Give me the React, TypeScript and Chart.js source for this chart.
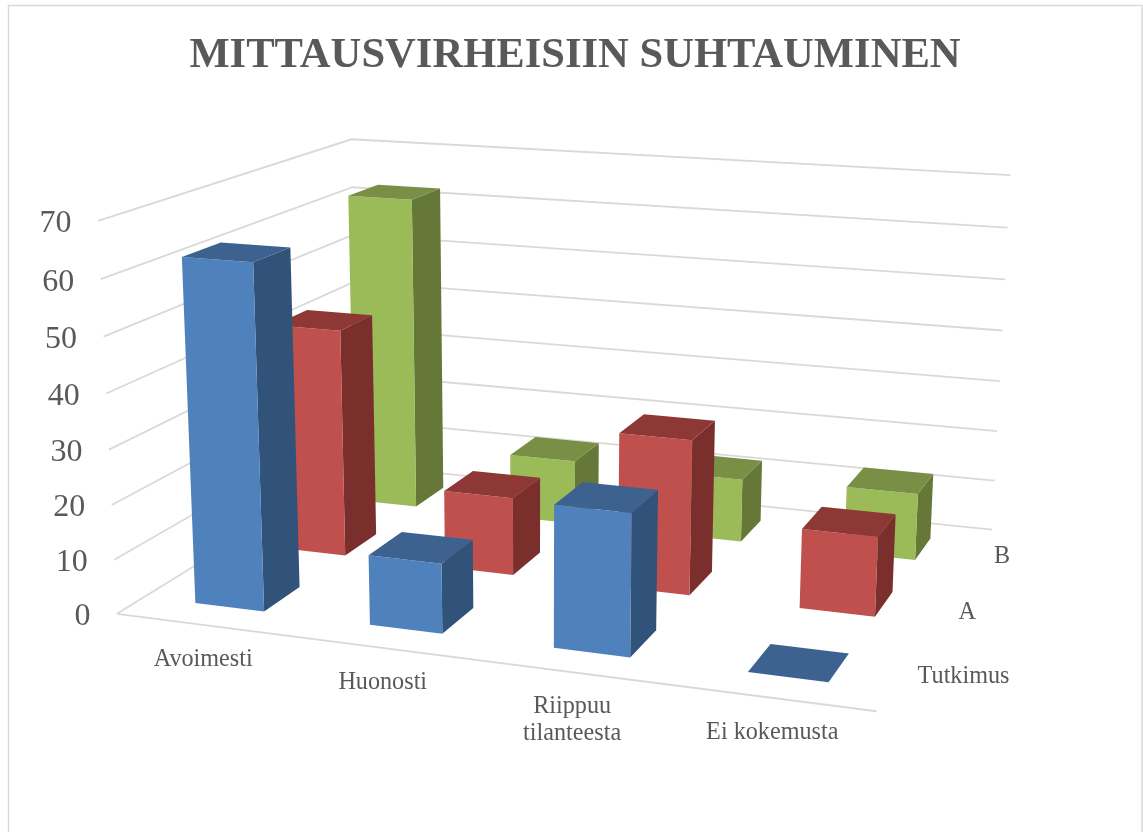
import React, { useEffect, useRef } from "react";
import { Chart, registerables } from "chart.js";

Chart.register(...registerables);

const TITLE = "MITTAUSVIRHEISIIN SUHTAUMINEN";
const categories: (string | string[])[] = ["Avoimesti", "Huonosti", ["Riippuu", "tilanteesta"], "Ei kokemusta"];
const seriesNames = ["Tutkimus", "A", "B"];
const tutkimus = [62.7, 12.7, 25.3, 0];
const sarjaA = [43.6, 14.8, 29, 14.7];
const sarjaB = [62.6, 12.8, 12.4, 13];
const valueTicks = { min: 0, max: 70, step: 10 };

const seriesStyles = [
  { front: "#4F81BD", side: "#325379", top: "#3D6290" },
  { front: "#C0504D", side: "#7A2F2D", top: "#8E3836" },
  { front: "#9BBB59", side: "#657837", top: "#788F45" },
];
const GRID = "#D9D9D9";
const TEXT = "#595959";
const BAR_W = 0.4;
const BAR_D = 0.42;

// Camera fit: the box of the 3D plot (x, value, depth in 0..1) to where its corners appear.
const cameraFit: [number, number, number, number, number][] = [
  [0, 0, 0, 117, 613],
  [0, 1, 0, 98, 221],
  [0, 3 / 7, 0, 109, 450],
  [0, 4 / 7, 0, 106, 394],
  [0, 1, 1, 352, 139],
  [0, 0, 1, 358, 465],
  [1, 1, 1, 1010, 175],
  [1, 0, 1, 992, 530],
  [1, 0, 0, 877, 711],
];

function solveCamera() {
  const rows: number[][] = [];
  const rhs: number[] = [];
  for (const [x, y, z, u0, v0] of cameraFit) {
    const u = u0 / 1000, v = v0 / 1000;
    rows.push([x, y, z, 1, 0, 0, 0, 0, -u * x, -u * y, -u * z]); rhs.push(u);
    rows.push([0, 0, 0, 0, x, y, z, 1, -v * x, -v * y, -v * z]); rhs.push(v);
  }
  const n = 11;
  const A: number[][] = Array.from({ length: n }, () => new Array(n + 1).fill(0));
  rows.forEach((r, k) => {
    for (let i = 0; i < n; i++) {
      for (let j = 0; j < n; j++) A[i][j] += r[i] * r[j];
      A[i][n] += r[i] * rhs[k];
    }
  });
  for (let i = 0; i < n; i++) A[i][i] += 1e-10;
  for (let i = 0; i < n; i++) {
    let p = i;
    for (let k = i + 1; k < n; k++) if (Math.abs(A[k][i]) > Math.abs(A[p][i])) p = k;
    [A[i], A[p]] = [A[p], A[i]];
    for (let k = 0; k < n; k++) {
      if (k === i) continue;
      const f = A[k][i] / A[i][i];
      for (let j = i; j <= n; j++) A[k][j] -= f * A[i][j];
    }
  }
  return A.map((r, i) => r[n] / r[i]);
}
const cam = solveCamera();
function project(x: number, y: number, z: number): [number, number] {
  const w = cam[8] * x + cam[9] * y + cam[10] * z + 1;
  return [
    (1000 * (cam[0] * x + cam[1] * y + cam[2] * z + cam[3])) / w,
    (1000 * (cam[4] * x + cam[5] * y + cam[6] * z + cam[7])) / w,
  ];
}

const scene3d = {
  id: "scene3d",
  beforeDatasetsDraw(chart: any) {
    const { ctx, scales } = chart;
    const xs = scales.x, ys = scales.y, zs = scales.z;
    const nx = (i: number) => (xs.getPixelForValue(i) - xs.left) / xs.width;
    const nz = (i: number) => (zs.getPixelForValue(i) - zs.left) / zs.width;
    const ny = (v: number) => (ys.bottom - ys.getPixelForValue(v)) / ys.height;
    const catStep = 1 / xs.getLabels().length;
    const serStep = 1 / zs.getLabels().length;

    ctx.save();
    // outer frame
    ctx.strokeStyle = GRID;
    ctx.lineWidth = 1.5;
    ctx.strokeRect(8.5, 5.5, 1133.5, 900);

    const line = (a: [number, number], b: [number, number], c?: [number, number]) => {
      ctx.beginPath();
      ctx.moveTo(a[0], a[1]);
      ctx.lineTo(b[0], b[1]);
      if (c) ctx.lineTo(c[0], c[1]);
      ctx.stroke();
    };
    // walls and floor
    ctx.strokeStyle = GRID;
    ctx.lineWidth = 1.8;
    for (const t of ys.ticks) {
      const h = ny(t.value);
      line(project(0, h, 0), project(0, h, 1), project(1, h, 1));
    }
    line(project(0, 0, 0), project(1, 0, 0));

    // value labels
    ctx.fillStyle = TEXT;
    ctx.font = '32px "Liberation Serif"';
    ctx.textAlign = "right";
    ctx.textBaseline = "middle";
    for (const t of ys.ticks) {
      const p = project(0, ny(t.value), 0);
      ctx.fillText(String(t.value), p[0] - 26.5, p[1] + 3);
    }
    // category labels
    ctx.font = '24.2px "Liberation Serif"';
    ctx.textAlign = "center";
    xs.getLabels().forEach((lab: string | string[], i: number) => {
      const p = project(nx(i), 0, 0);
      const lines = Array.isArray(lab) ? lab : [lab];
      lines.forEach((s, k) => ctx.fillText(s, p[0], p[1] + 34.5 + k * 27));
    });
    // series labels
    ctx.textAlign = "left";
    zs.getLabels().forEach((lab: string, s: number) => {
      const p = project(1, 0, nz(s));
      ctx.fillText(lab, p[0] + 18, p[1] + 2);
    });

    // bars back to front
    const metas = chart.getSortedVisibleDatasetMetas();
    for (let s = metas.length - 1; s >= 0; s--) {
      const st = seriesStyles[s];
      const vals = chart.data.datasets[s].data as number[];
      vals.forEach((v: number, i: number) => {
        const xa = nx(i) - (catStep * BAR_W) / 2, xb = nx(i) + (catStep * BAR_W) / 2;
        const za = nz(s) - (serStep * BAR_D) / 2, zb = nz(s) + (serStep * BAR_D) / 2;
        const h = ny(v);
        const quad = (pts: [number, number][], c: string) => {
          ctx.beginPath();
          pts.forEach((q, k) => (k ? ctx.lineTo(q[0], q[1]) : ctx.moveTo(q[0], q[1])));
          ctx.closePath();
          ctx.fillStyle = c;
          ctx.fill();
        };
        if (v > 0) {
          quad([project(xb, 0, za), project(xb, 0, zb), project(xb, h, zb), project(xb, h, za)], st.side);
          quad([project(xa, 0, za), project(xb, 0, za), project(xb, h, za), project(xa, h, za)], st.front);
        }
        quad([project(xa, h, za), project(xb, h, za), project(xb, h, zb), project(xa, h, zb)], st.top);
      });
    }
    ctx.restore();
    return false;
  },
};

export default function App() {
  const ref = useRef<HTMLCanvasElement>(null);
  useEffect(() => {
    document.body.style.margin = "0";
    document.body.style.background = "#fff";
    const chart = new Chart(ref.current as HTMLCanvasElement, {
      type: "bar",
      data: {
        labels: categories as any,
        datasets: [
          { label: seriesNames[0], data: tutkimus, backgroundColor: seriesStyles[0].front },
          { label: seriesNames[1], data: sarjaA, backgroundColor: seriesStyles[1].front },
          { label: seriesNames[2], data: sarjaB, backgroundColor: seriesStyles[2].front },
        ],
      },
      options: {
        responsive: false,
        animation: false,
        layout: { padding: { left: 7 } },
        plugins: {
          legend: { display: false },
          tooltip: { enabled: false },
          title: {
            display: true,
            text: TITLE,
            color: TEXT,
            font: { family: "Liberation Serif", size: 42.6, weight: "bold" },
            padding: { top: 30, bottom: 10 },
          },
        },
        scales: {
          x: { type: "category", offset: true, grid: { display: false }, border: { display: false }, ticks: { display: false } },
          z: { axis: "x", type: "category", labels: seriesNames, offset: true, grid: { display: false }, border: { display: false }, ticks: { display: false } },
          y: { min: valueTicks.min, max: valueTicks.max, ticks: { stepSize: valueTicks.step, display: false }, grid: { display: false }, border: { display: false } },
        },
      } as any,
      plugins: [scene3d],
    });
    return () => chart.destroy();
  }, []);
  return <canvas ref={ref} width={1143} height={832} style={{ display: "block" }} />;
}
